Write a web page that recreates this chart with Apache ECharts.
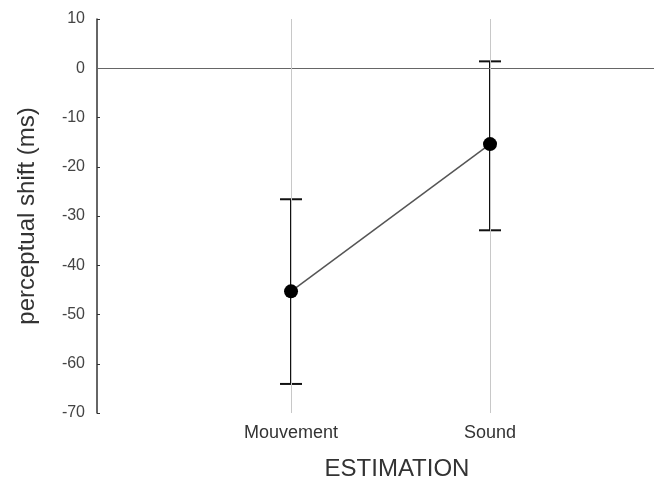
<!DOCTYPE html>
<html><head><meta charset="utf-8">
<script src="https://cdn.jsdelivr.net/npm/echarts@6/dist/echarts.min.js"></script>
<style>html,body{margin:0;padding:0;background:#fff}#c{width:654px;height:488px}</style>
</head><body><div id="c"></div>
<script>
const categories = ['Mouvement', 'Sound'];
const positions = [1, 2];
const means = [-45.3, -15.4];
const upper = [-26.6, 1.4];
const lower = [-64.1, -32.9];
const yTicks = [10, 0, -10, -20, -30, -40, -50, -60, -70];

const chart = echarts.init(document.getElementById('c'));
const FONT = 'Liberation Sans, Arial, sans-serif';

const errData = positions.map((p, i) => [p, lower[i], upper[i]]);
const meanData = positions.map((p, i) => [p, means[i]]);

chart.setOption({
  animation: false,
  grid: { left: 97, right: 0, top: 19, bottom: 75 },
  xAxis: {
    type: 'value', min: 0.025, max: 2.824,
    axisLine: { show: false },
    splitLine: { show: false },
    axisTick: { show: true, customValues: positions, length: 4, lineStyle: { color: '#bbb' } },
    axisLabel: {
      customValues: positions,
      formatter: v => categories[positions.indexOf(v)] || '',
      color: '#333', fontFamily: FONT, fontSize: 18, margin: 11
    }
  },
  yAxis: {
    type: 'value', min: -70, max: 10, interval: 10,
    name: 'perceptual shift (ms)', nameLocation: 'middle', nameGap: 58,
    nameTextStyle: { fontFamily: FONT, fontSize: 24, color: '#333' },
    axisLine: { show: true, lineStyle: { color: '#333', width: 1.5 } },
    axisTick: { show: true, inside: true, length: 3, lineStyle: { color: '#333' } },
    axisLabel: { color: '#444', fontFamily: FONT, fontSize: 16, margin: 12 },
    splitLine: { show: false }
  },
  graphic: [{
    type: 'text', x: 397, y: 469,
    style: { text: 'ESTIMATION', font: '24px ' + FONT, fill: '#333',
             align: 'center', verticalAlign: 'middle', textAlign: 'center', textVerticalAlign: 'middle' }
  }],
  series: [
    {
      type: 'line', data: meanData, symbol: 'circle', symbolSize: 14,
      itemStyle: { color: '#000' }, lineStyle: { color: '#555', width: 1.5 },
      z: 5,
      markLine: {
        silent: true, symbol: 'none', label: { show: false },
        data: [
          { yAxis: 0, lineStyle: { color: '#666', width: 1.2, type: 'solid' } },
          [{ coord: [positions[0], 10] }, { coord: [positions[0], -70] }],
          [{ coord: [positions[1], 10] }, { coord: [positions[1], -70] }]
        ],
        lineStyle: { color: '#c8c8c8', width: 1, type: 'solid' }
      }
    },
    {
      type: 'custom', data: errData, z: 4,
      renderItem: (params, api) => {
        const x = api.value(0);
        const lo = api.coord([x, api.value(1)]);
        const hi = api.coord([x, api.value(2)]);
        const hw = 11;
        const st = { stroke: '#111', lineWidth: 2 };
        return { type: 'group', children: [
          { type: 'line', shape: { x1: lo[0], y1: lo[1], x2: hi[0], y2: hi[1] }, style: st },
          { type: 'line', shape: { x1: lo[0] - hw, y1: lo[1], x2: lo[0] + hw, y2: lo[1] }, style: st },
          { type: 'line', shape: { x1: hi[0] - hw, y1: hi[1], x2: hi[0] + hw, y2: hi[1] }, style: st }
        ]};
      }
    }
  ]
});
</script></body></html>
